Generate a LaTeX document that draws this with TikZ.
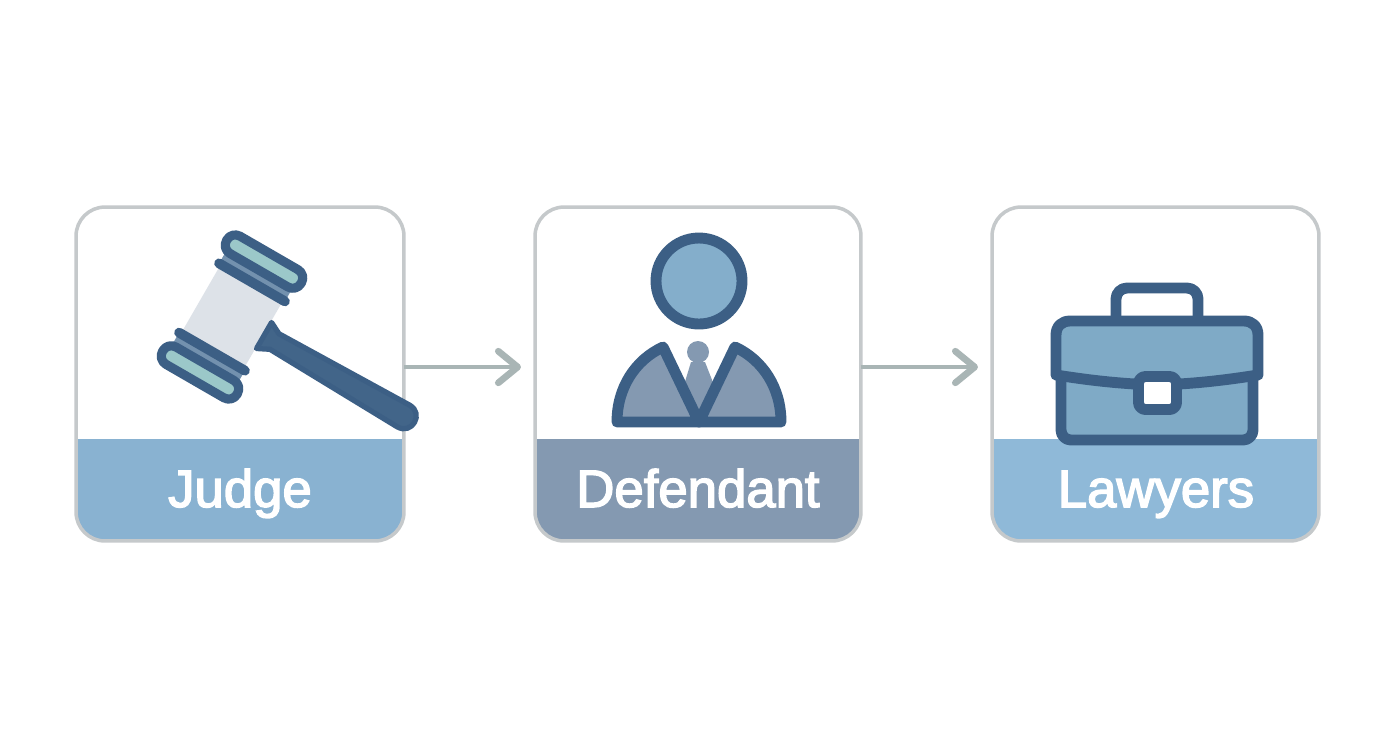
\documentclass[tikz,border=0pt]{standalone}
\usepackage{fontspec}
\newfontfamily\labelfont[FakeBold=2.8]{Liberation Sans}
\usetikzlibrary{arrows.meta}
\definecolor{judgeblue}{HTML}{89B2D1}
\definecolor{suitgray}{HTML}{8499B1}
\definecolor{lawyerblue}{HTML}{8FB9D8}
\definecolor{cardline}{HTML}{C5C9CB}
\definecolor{flowgray}{HTML}{A9B5B5}
\definecolor{inkblue}{HTML}{3C5F85}
\definecolor{handleblue}{HTML}{426589}
\definecolor{stripeblue}{HTML}{7391AE}
\definecolor{capteal}{HTML}{9BC8C9}
\definecolor{headgray}{HTML}{DDE2E8}
\definecolor{faceblue}{HTML}{84AECB}
\definecolor{caseblue}{HTML}{7FAAC6}
\tikzset{
  card/.style={draw=cardline,line width=2pt,fill=white,rounded corners=0.58cm,
    minimum width=6.56cm,minimum height=6.68cm,inner sep=0pt,outer sep=0pt,
    path picture={\fill[#1,sharp corners] (path picture bounding box.south west) rectangle
      ([yshift=2.04cm]path picture bounding box.south east);}},
  cardlabel/.style={text=white,font=\labelfont\fontsize{30}{30}\selectfont,inner sep=0pt,anchor=base},
  flow/.style={draw=flowgray,line width=2.8pt,shorten >=8pt,
    -{Straight Barb[round,length=11pt,width=18pt,line width=3.8pt]}},
  ink/.style={draw=inkblue,line width=6.2pt,line join=round},
  capbar/.style={ink,line width=5.2pt,fill=capteal,rounded corners=0.19cm},
  headbar/.style={draw=inkblue,line width=5.6pt,line cap=round}
}
\begin{document}
\begin{tikzpicture}[x=0.02cm,y=-0.02cm]
\useasboundingbox[fill=white] (0,0) rectangle (1392,752);
\node[card=judgeblue] (judge) at (240,374) {};
\node[card=suitgray,minimum width=6.52cm] (defendant) at (698,374) {};
\node[card=lawyerblue,minimum width=6.54cm] (lawyers) at (1155.5,374) {};
\coordinate (flowline) at (0,367);
\draw[flow] (judge.east |- flowline) -- (defendant.west |- flowline);
\draw[flow] (defendant.east |- flowline) -- (lawyers.west |- flowline);
\node[cardlabel] (judgelabel) at (240,507) {Judge};
\node[cardlabel] (defendantlabel) at (698,507) {Defendant};
\node[cardlabel] (lawyerslabel) at (1156,507) {Lawyers};
% gavel
\begin{scope}[shift={(232,317)},rotate=-30]
\fill[stripeblue] (-38,-52) rectangle (38,-42);
\fill[stripeblue] (-38,42) rectangle (38,52);
\fill[headgray] (-36,-38) rectangle (36,38);
\draw[headbar] (-38,-40) -- (38,-40);
\draw[headbar] (-38,40) -- (38,40);
\draw[capbar] (-43,-74) rectangle (43,-54);
\draw[capbar] (-43,54) rectangle (43,74);
\draw[draw=inkblue,fill=handleblue,line width=3pt,line join=round]
  (37,-15) -- (37,15) -- (49,9) -- (198,12.5)
  .. controls (215,12.5) and (215,-12.5) .. (198,-12.5) -- (49,-9) -- cycle;
\end{scope}
% defendant figure
\fill[suitgray] (698,352) circle [radius=11];
\fill[suitgray] (691,362) -- (705,362) -- (714,385) -- (699,418) -- (684,385) -- cycle;
\draw[ink,fill=faceblue] (699,281) circle [radius=43];
\draw[ink,fill=suitgray] (617,422) .. controls (617,388) and (635,360) .. (663,347) -- (699,422) -- cycle;
\draw[ink,fill=suitgray] (781,422) .. controls (781,388) and (763,360) .. (735,347) -- (699,422) -- cycle;
% briefcase
\draw[ink,rounded corners=0.22cm] (1116,325) -- (1116,288) -- (1198,288) -- (1198,325);
\draw[ink,fill=caseblue,rounded corners=0.2cm] (1061,360) rectangle (1253,440);
\draw[ink,fill=caseblue] (1056,375) -- (1056,335) .. controls (1056,326) and (1062,321) .. (1070,321)
  -- (1244,321) .. controls (1252,321) and (1258,326) .. (1258,335) -- (1258,375)
  .. controls (1220,381) and (1190,384) .. (1157,385) .. controls (1124,384) and (1094,381) .. (1056,375) -- cycle;
\draw[ink,fill=white,rounded corners=0.14cm] (1138.5,376.5) rectangle (1176.5,409.5);
\end{tikzpicture}
\end{document}
